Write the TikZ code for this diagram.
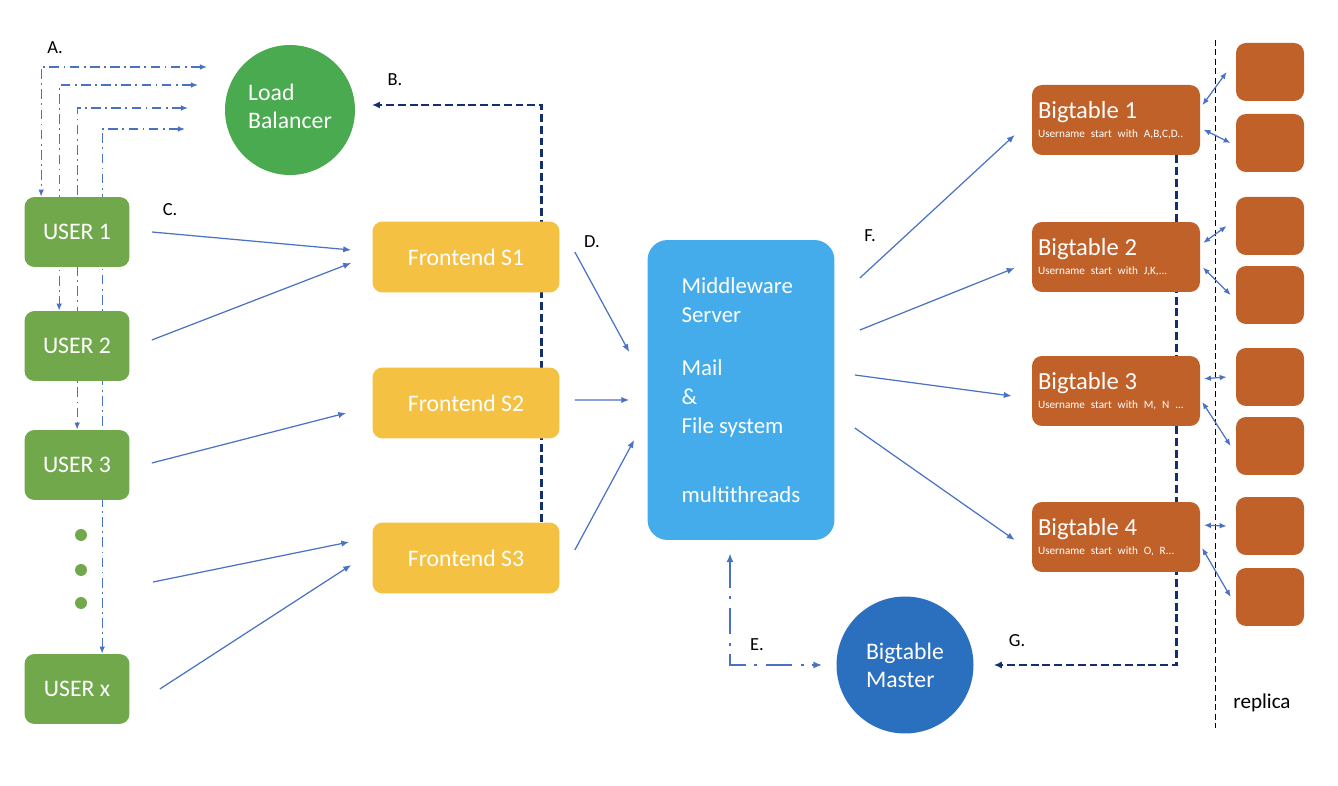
\documentclass[tikz,border=0pt]{standalone}
\usepackage{fontspec}
\setmainfont{Carlito}
\usetikzlibrary{arrows.meta,backgrounds,calc}

\definecolor{usergreen}{HTML}{71A84C}
\definecolor{lbgreen}{HTML}{4AAA4F}
\definecolor{feyellow}{HTML}{F5C143}
\definecolor{mwblue}{HTML}{45ACEB}
\definecolor{btorange}{HTML}{C0612A}
\definecolor{masterblue}{HTML}{2B70BE}
\definecolor{linkblue}{HTML}{4A72C4}
\definecolor{navy}{HTML}{142F6E}

\newcommand{\bttitle}[2]{{\fontsize{14}{15}\selectfont #1}\\[-1pt]
  \mbox{\fontsize{6.4}{7}\selectfont #2}}

\tikzset{
  userbox/.style={fill=usergreen, rounded corners=0.2cm, minimum width=2.1cm,
    minimum height=1.4cm, text=white, font=\fontsize{13.5}{16}\selectfont},
  febox/.style={fill=feyellow, rounded corners=0.2cm, minimum width=3.74cm,
    minimum height=1.42cm, text=white, font=\fontsize{13.5}{16}\selectfont},
  btbox/.style={fill=btorange, rounded corners=0.2cm, text width=3.12cm,
    inner xsep=0.12cm, minimum height=1.4cm, text=white, align=left},
  repbox/.style={fill=btorange, rounded corners=0.2cm, minimum width=1.36cm,
    minimum height=1.16cm},
  bigcircle/.style={circle, text=white, align=left,
    font=\fontsize{13.5}{16}\selectfont},
  lbl/.style={font=\fontsize{10.5}{12}\selectfont},
  carrow/.style={draw=linkblue, line width=0.7pt, -{Latex[length=4.5pt,width=3.6pt]}},
  reparrow/.style={draw=linkblue, line width=0.7pt, shorten <=2pt,
    {Latex[length=4pt,width=3.2pt]}-{Latex[length=4pt,width=3.2pt]}},
  aline/.style={draw=linkblue, line width=0.7pt,
    dash pattern=on 5.5pt off 2.5pt on 1pt off 2.5pt,
    {Latex[length=4pt,width=3.2pt]}-{Latex[length=4pt,width=3.2pt]}},
  eline/.style={draw=linkblue, line width=1.1pt,
    dash pattern=on 15pt off 5pt on 1.5pt off 5pt,
    {Latex[length=5pt,width=4pt]}-{Latex[length=5pt,width=4pt]}},
  navyline/.style={draw=navy, line width=1.6pt, dash pattern=on 4.5pt off 2.2pt,
    -{Latex[length=4.5pt,width=4pt]}}
}

\begin{document}
\begin{tikzpicture}[x=0.02cm,y=-0.02cm]
  \useasboundingbox (0,0) rectangle (1338,786);

  % users
  \node[userbox] (u1) at (77,232) {USER 1};
  \node[userbox] (u2) at (77,346) {USER 2};
  \node[userbox] (u3) at (77,465) {USER 3};
  \foreach \i/\y in {1/535,2/570,3/603}
    \fill[usergreen] (81,\y) circle (6) coordinate (dot\i);
  \node[userbox] (ux) at (77,689) {USER x};

  % load balancer and frontends
  \node[bigcircle, fill=lbgreen, minimum size=2.6cm] (lb) at (290,110) {Load\\Balancer\\[-11.5pt]};
  \node[febox] (f1) at (466,257) {Frontend S1};
  \node[febox] (f2) at (466,403) {Frontend S2};
  \node[febox] (f3) at (466,558) {Frontend S3};

  % middleware
  \node[fill=mwblue, rounded corners=0.4cm, minimum width=3.74cm, minimum height=6cm,
    text=white, align=left, font=\fontsize{13}{16.4}\selectfont] (mw) at (741,390)
    {Middleware\\Server\\[14pt]Mail\\\&\\File system\\[23pt]multithreads};

  % bigtables
  \node[btbox] (bt1) at (1116,120) {\bttitle{Bigtable 1}{Username start with A,B,C,D..}};
  \node[btbox] (bt2) at (1116,257) {\bttitle{Bigtable 2}{Username start with J,K,...}};
  \node[btbox] (bt3) at (1116,391) {\bttitle{Bigtable 3}{Username start with M, N ...}};
  \node[btbox] (bt4) at (1116,537) {\bttitle{Bigtable 4}{Username start with O, R...}};
  \node[bigcircle, fill=masterblue, minimum size=2.74cm] (ms) at (905,665) {Bigtable\\Master};

  % replicas
  \foreach \i/\y in {1/72,2/143,3/226,4/295,5/377,6/446,7/526,8/597}
    \node[repbox] (rep\i) at (1270,\y) {};
  \draw[line width=0.45pt, dash pattern=on 3.4pt off 2pt] (1215,40) coordinate (sep1) -- (1215,728) coordinate (sep2);
  \node[font=\fontsize{12}{14}\selectfont] (replica) at (1262,703) {replica};
  \foreach \b/\r/\s in {1/1/2,2/3/4,3/5/6,4/7/8} {
    \draw[reparrow] ([yshift=0.24cm]bt\b.east) -- ([xshift=-0.18cm]rep\r.west);
    \draw[reparrow] ([yshift=-0.16cm]bt\b.east) -- ([xshift=-0.1cm]rep\s.west);
  }

  % A. users and load balancer
  \coordinate (a1) at (207,67);
  \coordinate (a2) at (198,85);
  \coordinate (a3) at (188,108);
  \coordinate (a4) at (185,129);
  \coordinate (b1) at (372,105);
  \begin{scope}[on background layer]
    \draw[aline] (a1) -| ([xshift=0.34cm]u1.north west);
    \draw[aline] (a2) -| ([xshift=0.7cm]u2.north west);
    \draw[aline] (a3) -| ([xshift=1.06cm]u3.north west);
    \draw[aline] (a4) -| ([xshift=1.56cm]ux.north west);
    % B. and G.
    \draw[navyline] ([xshift=-0.36cm]f3.north east) |- (b1);
    \draw[navyline] ([xshift=-0.48cm]bt1.south east) |- ([xshift=0.4cm]ms.east);
  \end{scope}

  % C. users to frontends
  \draw[carrow] ([xshift=0.44cm]u1.east) -- ([xshift=-0.42cm,yshift=0.14cm]f1.west);
  \draw[carrow] ([xshift=0.44cm,yshift=0.12cm]u2.east) -- ([xshift=-0.42cm,yshift=-0.12cm]f1.west);
  \draw[carrow] ([xshift=0.44cm,yshift=0.04cm]u3.east) -- ([xshift=-0.52cm,yshift=-0.2cm]f2.west);
  \draw[carrow] ([xshift=1.44cm,yshift=-0.24cm]dot2) -- ([xshift=-0.46cm,yshift=0.32cm]f3.west);
  \draw[carrow] ([xshift=0.6cm]ux.east) -- ([xshift=-0.42cm,yshift=-0.14cm]f3.west);

  % D. frontends to middleware
  \draw[carrow] ([xshift=0.3cm,yshift=0.1cm]f1.east) -- ([xshift=-0.36cm,yshift=0.76cm]mw.west);
  \draw[carrow] ([xshift=0.3cm,yshift=0.06cm]f2.east) -- ([xshift=-0.36cm,yshift=-0.2cm]mw.west);
  \draw[carrow] ([xshift=0.3cm,yshift=0.16cm]f3.east) -- ([xshift=-0.26cm,yshift=-1cm]mw.west);

  % F. middleware to bigtables
  \draw[carrow] ([xshift=0.5cm,yshift=2.24cm]mw.east) -- ([xshift=-0.34cm,yshift=-0.3cm]bt1.west);
  \draw[carrow] ([xshift=0.5cm,yshift=1.2cm]mw.east) -- ([xshift=-0.34cm,yshift=-0.22cm]bt2.west);
  \draw[carrow] ([xshift=0.4cm,yshift=0.3cm]mw.east) -- ([xshift=-0.4cm,yshift=-0.1cm]bt3.west);
  \draw[carrow] ([xshift=0.4cm,yshift=-0.76cm]mw.east) -- ([xshift=-0.34cm,yshift=-0.06cm]bt4.west);

  % E. middleware and master
  \draw[eline] ([xshift=-0.22cm,yshift=-0.26cm]mw.south) |- ([xshift=-0.28cm]ms.west);

  % labels
  \node[lbl] (lA) at (55,48) {A.};
  \node[lbl] (lB) at (395,80) {B.};
  \node[lbl] (lC) at (170,210) {C.};
  \node[lbl] (lD) at (592,242) {D.};
  \node[lbl] (lE) at (757,645) {E.};
  \node[lbl] (lF) at (870,236) {F.};
  \node[lbl] (lG) at (1017,641) {G.};
\end{tikzpicture}
\end{document}
